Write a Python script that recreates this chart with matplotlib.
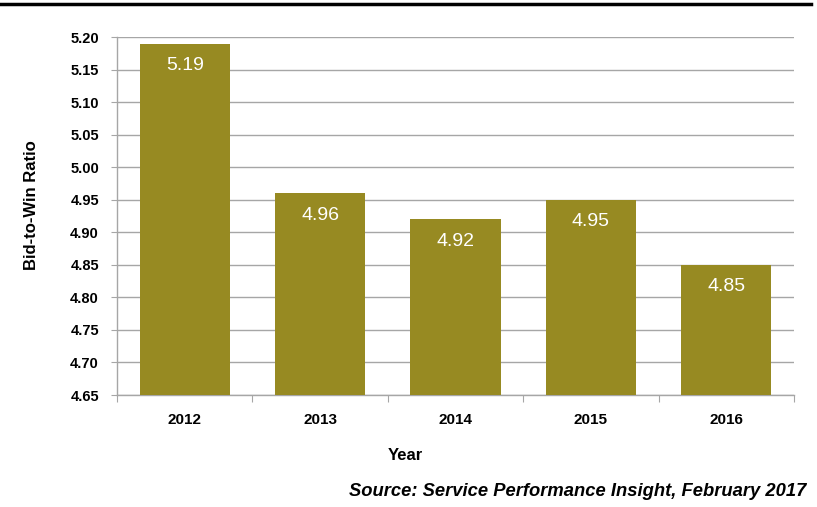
import matplotlib
matplotlib.use("Agg")
import matplotlib.pyplot as plt
from matplotlib.lines import Line2D
from matplotlib import transforms
import numpy as np

years = ["2012", "2013", "2014", "2015", "2016"]
ratios = [5.19, 4.96, 4.92, 4.95, 4.85]
y_ticks = [4.65, 4.70, 4.75, 4.80, 4.85, 4.90, 4.95, 5.00, 5.05, 5.10, 5.15, 5.20]

plt.rcParams["font.family"] = ["Liberation Sans", "DejaVu Sans"]

bar_color = "#978a22"
grid_color = "#a6a6a6"

fig = plt.figure(figsize=(8.17, 5.07), dpi=100)
ax = fig.add_axes([117 / 817, 1 - 395 / 507, (794 - 117) / 817, (395 - 37) / 507])

x = np.arange(len(years))
ax.bar(x, ratios, width=0.665, color=bar_color, zorder=3)
ax.set_ylim(4.65, 5.20)
ax.set_xlim(-0.5, len(years) - 0.5)

# value labels sit just inside the top of each bar
offset = transforms.offset_copy(ax.transData, fig=fig, x=0, y=-22, units="dots")
for xi, v in zip(x, ratios):
    ax.text(xi, v, f"{v:.2f}", ha="center", va="center", transform=offset,
            color="white", fontsize=14, zorder=4)

ax.set_yticks(y_ticks)
ax.set_yticklabels([f"{t:.2f}" for t in y_ticks], fontsize=10.5, fontweight="bold")
ax.yaxis.grid(True, color=grid_color, linewidth=1.0, zorder=0)
ax.tick_params(axis="y", length=4, color=grid_color, pad=9)

# category labels centred under bars, ticks at category boundaries
ax.set_xticks(np.arange(-0.5, len(years)))
ax.set_xticklabels([""] * (len(years) + 1))
ax.tick_params(axis="x", length=5, color=grid_color)
ax.set_xticks(x, minor=True)
ax.set_xticklabels(years, minor=True, fontsize=11, fontweight="bold")
ax.tick_params(axis="x", which="minor", length=0, pad=13)

for s in ["top", "right"]:
    ax.spines[s].set_visible(False)
for s in ["left", "bottom"]:
    ax.spines[s].set_color(grid_color)
    ax.spines[s].set_linewidth(1.0)

fig.text(31 / 817, 1 - 205 / 507, "Bid-to-Win Ratio", rotation=90,
         ha="center", va="center", fontsize=12, fontweight="bold")
fig.text(405 / 817, 1 - 455 / 507, "Year", ha="center", va="center",
         fontsize=12, fontweight="bold")
fig.text(806 / 817, 1 - 492 / 507, "Source: Service Performance Insight, February 2017",
         ha="right", va="center", fontsize=13.2, fontweight="bold", style="italic")

fig.add_artist(Line2D([0, 811 / 817], [1 - 3.5 / 507, 1 - 3.5 / 507],
                      transform=fig.transFigure, color="black", linewidth=2.5))

fig.savefig("out.png", dpi=100)
